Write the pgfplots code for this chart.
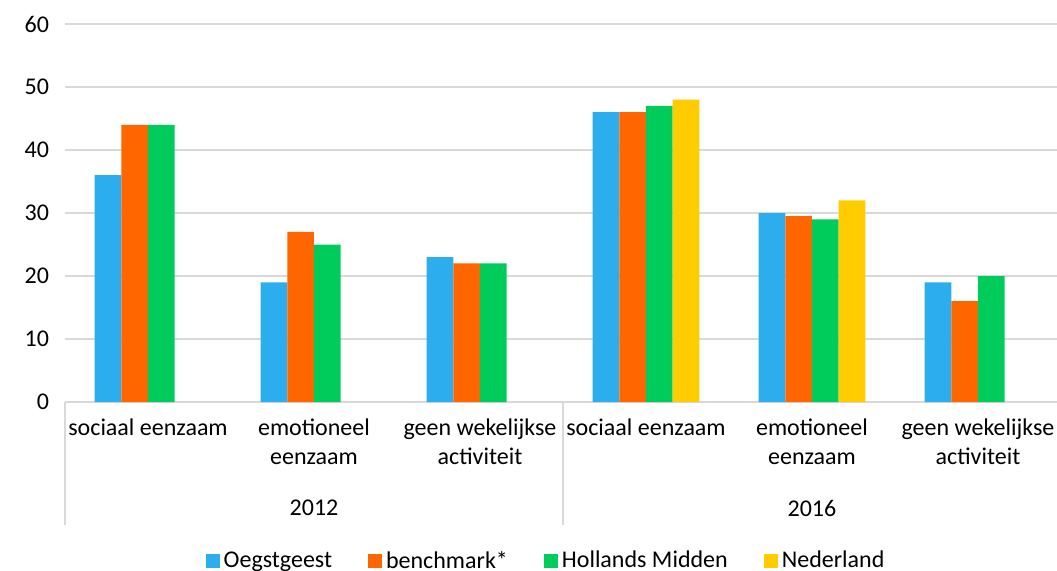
\documentclass[border=0pt]{standalone}
\usepackage{fontspec}
\setmainfont{Carlito}
\usepackage{pgfplots}
\pgfplotsset{compat=1.18}
\definecolor{cOeg}{HTML}{2CAEEE}
\definecolor{cBen}{HTML}{FF6600}
\definecolor{cHM}{HTML}{00CC5C}
\definecolor{cNL}{HTML}{FFCC00}
\definecolor{cGrid}{HTML}{D9D9D9}
\begin{document}
\begin{tikzpicture}[font=\fontsize{12}{14.4}\selectfont]
\path[use as bounding box] (0,0) rectangle (528.5pt,285pt);
\begin{axis}[
  at={(32.5pt,84pt)}, anchor=south west,
  scale only axis, width=498pt, height=189pt,
  ybar=0pt, bar width=13.35pt,
  xmin=-0.5, xmax=5.5, ymin=0, ymax=60,
  ytick={0,10,...,60},
  xtick={0,1,2,3,4,5},
  xticklabels={sociaal eenzaam,{emotioneel\\eenzaam},{geen wekelijkse\\activiteit},sociaal eenzaam,{emotioneel\\eenzaam},{geen wekelijkse\\activiteit}},
  xticklabel style={align=center, anchor=north, yshift=-5pt},
  yticklabel style={xshift=-4.5pt},
  /pgf/number format/assume math mode=true,
  major tick length=0pt,
  axis line style={draw=none},
  ymajorgrids, grid style={cGrid, line width=0.75pt},
  clip=false,
  legend columns=4,
  legend style={at={(0.484,-0.421)}, anchor=center, draw=none, fill=none,
    /tikz/every even column/.append style={column sep=16pt}},
  legend image code/.code={\fill[#1] (0pt,-3.5pt) rectangle (7pt,3.5pt);},
]
\addplot[fill=cOeg, draw=none] coordinates {(0,36) (1,19) (2,23) (3,46) (4,30) (5,19)};
\addplot[fill=cBen, draw=none] coordinates {(0,44) (1,27) (2,22) (3,46) (4,29.5) (5,16)};
\addplot[fill=cHM, draw=none] coordinates {(0,44) (1,25) (2,22) (3,47) (4,29) (5,20)};
\addplot[fill=cNL, draw=none] coordinates {(3,48) (4,32)};
\legend{Oegstgeest, benchmark*, Hollands Midden, Nederland}
\draw[cGrid, line width=0.75pt] (axis cs:-0.5,0) -- ([yshift=-61.5pt]axis cs:-0.5,0);
\draw[cGrid, line width=0.75pt] (axis cs:2.5,0) -- ([yshift=-61.5pt]axis cs:2.5,0);
\draw[cGrid, line width=0.75pt] (axis cs:5.5,0) -- ([yshift=-61.5pt]axis cs:5.5,0);
\node at (axis cs:1,0) [yshift=-53pt] {2012};
\node at (axis cs:4,0) [yshift=-53pt] {2016};
\end{axis}
\end{tikzpicture}
\end{document}
